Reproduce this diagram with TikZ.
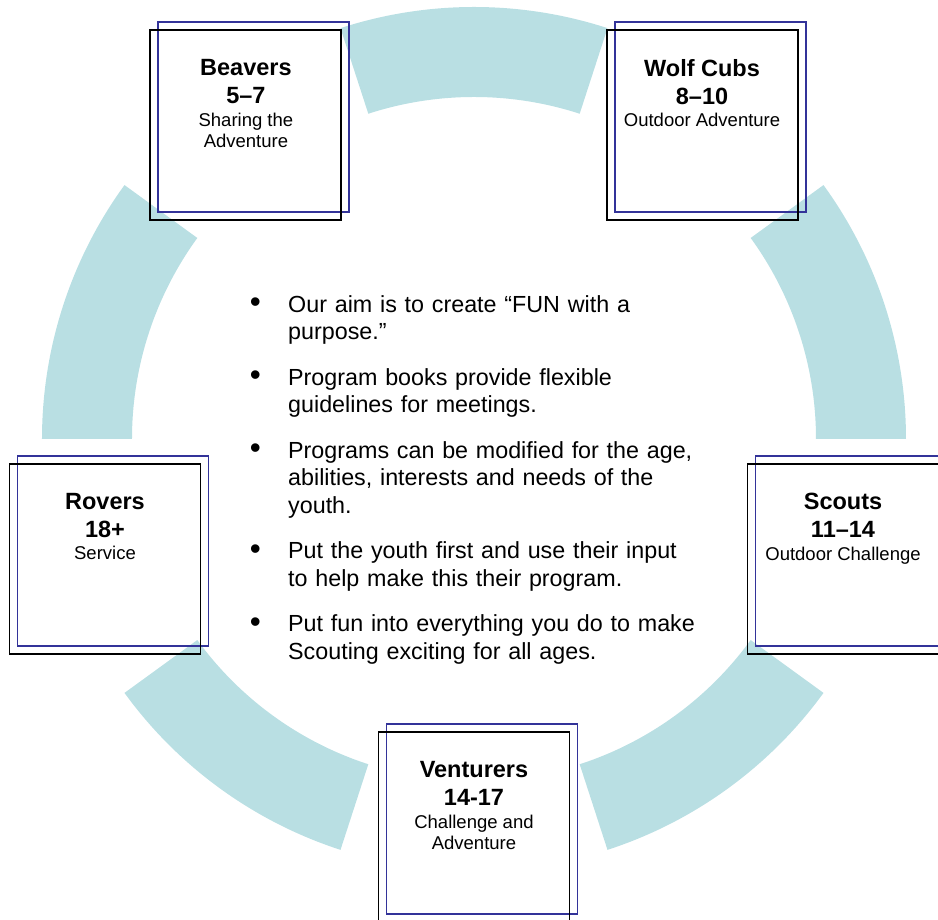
\documentclass[tikz,border=0pt]{standalone}
\usepackage{fontspec}
\setmainfont{Liberation Sans}
\usetikzlibrary{positioning}
\definecolor{ringteal}{RGB}{185,223,227}
\definecolor{frameblue}{RGB}{51,51,153}
\tikzstyle{ring}=[fill=ringteal]
\tikzstyle{box}=[draw=black, line width=1.9pt, minimum width=191pt, minimum height=190pt, inner sep=0pt]
\tikzstyle{backbox}=[draw=frameblue, line width=1.9pt, minimum width=191pt, minimum height=190pt, inner sep=0pt]
\tikzstyle{agetext}=[align=center, inner sep=0pt, font=\fontsize{18.5}{21.3}\selectfont]
\tikzstyle{aimtext}=[anchor=north west, inner sep=0pt, text width=430pt, align=left, font=\fontsize{23.3}{27.5}\selectfont]
\newcommand{\grp}[1]{{\bfseries\fontsize{23.5}{28}\selectfont #1}}
\newcommand{\aimpt}{\leavevmode\llap{\raisebox{-0.6pt}{\scalebox{1.35}{\textbullet}}\hspace{27.2pt}}}

\begin{document}
\begin{tikzpicture}[x=1pt, y=1pt]
    \useasboundingbox (-474,-481) rectangle (464,439);
    \clip (-474,-481) rectangle (464,439);
    % ring pieces
    \foreach \a [evaluate=\a as \b using \a+36] in {0,72,...,288}
    \fill[ring] (\a:432pt) arc[start angle=\a, end angle=\b, radius=432pt]
      -- (\b:342pt) arc[start angle=\b, end angle=\a, radius=342pt] -- cycle;
    % boxes, blue frame behind
    \foreach \n/\a in {bv/126, wc/54, sc/-18, vn/-90, rv/198}
    \node[backbox] (\n f) at ([shift={(8,8)}]\a:388pt) {};
    \node[box] (bv) at (126:388pt) {};
    \node[box] (wc) at (54:388pt) {};
    \node[box] (sc) at (-18:388pt) {};
    \node[box] (vn) at (-90:388pt) {};
    \node[box] (rv) at (198:388pt) {};
    \node[agetext, below=30pt of bv.north] (bvt) {\grp{Beavers}\\[7pt]\grp{5–7}\\[1pt]Sharing the\\Adventure};
    \node[agetext, below=30pt of wc.north] (wct) {\grp{Wolf Cubs}\\[7pt]\grp{8–10}\\[1pt]Outdoor Adventure};
    \node[agetext, below=30pt of sc.north] (sct) {\grp{Scouts}\\[7pt]\grp{11–14}\\[1pt]Outdoor Challenge};
    \node[agetext, below=30pt of vn.north] (vnt) {\grp{Venturers}\\[7pt]\grp{14-17}\\[1pt]Challenge and\\Adventure};
    \node[agetext, below=30pt of rv.north] (rvt) {\grp{Rovers}\\[7pt]\grp{18+}\\[1pt]Service};
    % aims
    \node[aimtext] (aims) at (-186,146.25) {\setlength{\parskip}{18pt}\setlength{\parindent}{0pt}%
      \aimpt\strut Our aim is to create “FUN with a\\purpose.”\par
      \aimpt Program books provide flexible\\guidelines for meetings.\par
      \aimpt Programs can be modified for the age,\\abilities, interests and needs of the\\youth.\par
      \aimpt Put the youth first and use their input\\to help make this their program.\par
      \aimpt Put fun into everything you do to make\\Scouting exciting for all ages.};
\end{tikzpicture}
\end{document}
